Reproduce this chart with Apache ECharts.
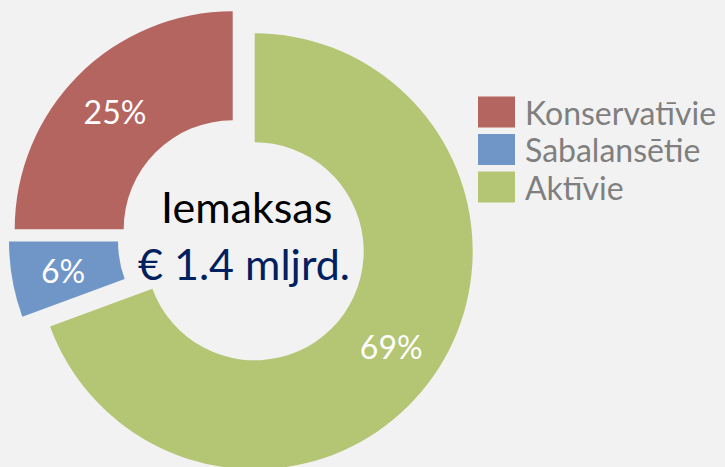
<!DOCTYPE html>
<html><head><meta charset="utf-8">
<script src="https://cdn.jsdelivr.net/npm/echarts@6/dist/echarts.min.js"></script>
<style>html,body{margin:0;padding:0;background:#f2f2f2}#c{width:725px;height:467px}</style>
</head><body><div id="c"></div>
<script>
// Data (clockwise from 12 o'clock)
const categories = ['Aktīvie', 'Sabalansētie', 'Konservatīvie'];
const values = [69.4, 5.6, 25];
const legendOrder = ['Konservatīvie', 'Sabalansētie', 'Aktīvie'];
const centerTitle = 'Iemaksas';
const centerValue = '€ 1.4 mljrd.';

const colors = {'Aktīvie': '#b4c574', 'Sabalansētie': '#7096c8', 'Konservatīvie': '#b56560'};
// exploded slice centres
const centers = {'Aktīvie': [254.7, 251.3], 'Sabalansētie': [227, 241.5], 'Konservatīvie': [232.7, 229.3]};
const FONT = 'Lato';

const series = categories.map(function (visibleName) {
  return {
    type: 'pie',
    name: visibleName,
    center: centers[visibleName],
    radius: [109, 218],
    startAngle: 90,
    clockwise: true,
    silent: true,
    animation: false,
    avoidLabelOverlap: false,
    percentPrecision: 0,
    emphasis: {disabled: true},
    label: {show: true, position: 'inside', formatter: '{d}%', color: '#ffffff', fontSize: 32, fontFamily: FONT},
    labelLine: {show: false},
    data: categories.map(function (n, i) {
      const vis = n === visibleName;
      return {
        name: n, value: values[i],
        itemStyle: {color: vis ? colors[n] : 'rgba(0,0,0,0)', borderWidth: 0},
        label: {show: vis}
      };
    })
  };
});

const chart = echarts.init(document.getElementById('c'), null, {renderer: 'svg'});
chart.setOption({
  backgroundColor: '#f2f2f2',
  animation: false,
  legend: {
    orient: 'vertical', left: 478, top: 96, padding: 0,
    icon: 'rect', itemWidth: 37, itemHeight: 31, itemGap: 5.5,
    selectedMode: false,
    data: legendOrder.map(function (n) { return {name: n, itemStyle: {color: colors[n]}}; }),
    textStyle: {fontSize: 32, fontFamily: FONT, color: '#7f7f7f', lineHeight: 31, padding: [0, 0, 0, 5]}
  },
  graphic: [
    {type: 'text', left: 'center', x: 0, style: {}, silent: true, invisible: true},
    {type: 'text', x: 246.7, y: 206, silent: true,
     style: {text: centerTitle, fill: '#000000', fontSize: 43, fontFamily: FONT, textAlign: 'center', textVerticalAlign: 'middle'}},
    {type: 'text', x: 244, y: 263, silent: true,
     style: {text: centerValue, fill: '#002060', fontSize: 43, fontFamily: FONT, textAlign: 'center', textVerticalAlign: 'middle'}}
  ],
  series: series
});
</script></body></html>
